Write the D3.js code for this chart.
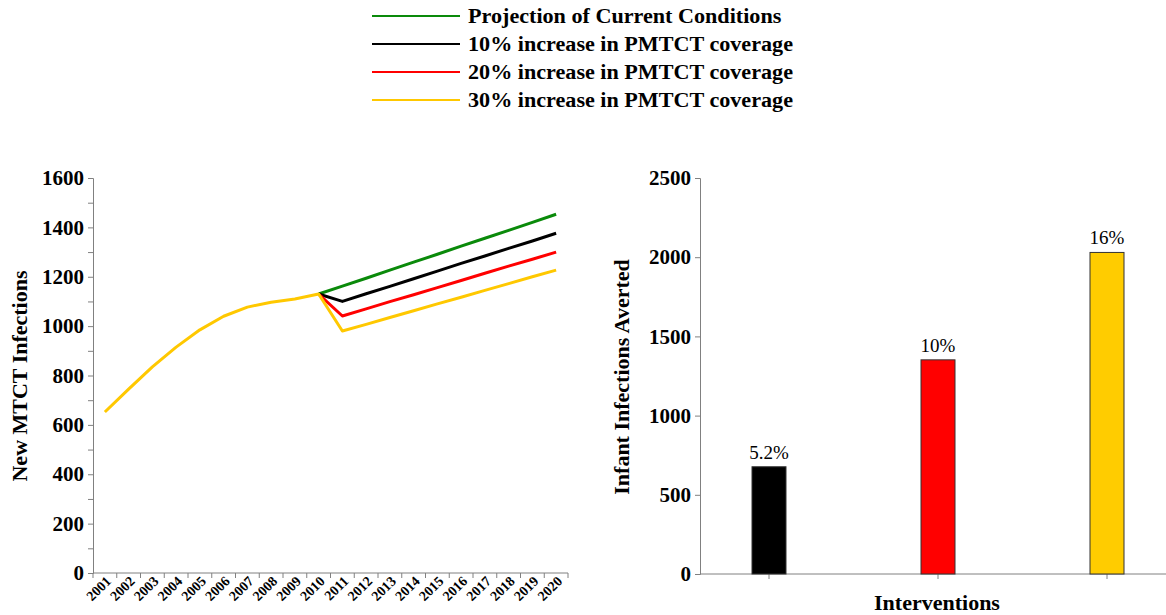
<!DOCTYPE html>
<html><head><meta charset="utf-8">
<script src="https://cdn.jsdelivr.net/npm/d3@7"></script>
<style>
html,body{margin:0;padding:0;background:#fff;}
</style></head>
<body>
<svg id="c" width="1166" height="615"></svg>
<script>
const years = ["2001","2002","2003","2004","2005","2006","2007","2008","2009","2010","2011","2012","2013","2014","2015","2016","2017","2018","2019","2020"];
const history = [652,745,835,915,985,1040,1077,1097,1110,1130];
const currentConditions = [1162,1194,1227,1259,1291,1324,1356,1388,1420,1453];
const inc10 = [1100,1131,1161,1192,1223,1254,1284,1315,1345,1376];
const inc20 = [1041,1070,1099,1127,1156,1185,1214,1243,1271,1300];
const inc30 = [980,1007,1035,1062,1090,1117,1145,1172,1200,1227];
const seriesNames = ["Projection of Current Conditions","10% increase in PMTCT coverage","20% increase in PMTCT coverage","30% increase in PMTCT coverage"];
const seriesColors = ["#0a8a0a","#000000","#ff0000","#ffc800"];
const leftTicks = [0,200,400,600,800,1000,1200,1400,1600];

const interventions = ["10%","20%","30%"];
const averted = [677,1352,2030];
const avertedLabels = ["5.2%","10%","16%"];
const barColors = ["#000000","#ff0000","#ffcc00"];
const rightTicks = [0,500,1000,1500,2000,2500];

const FONT = "'Liberation Serif', 'Times New Roman', Tinos, 'DejaVu Serif', serif";
const svg = d3.select("#c").style("font-family", FONT);
const axisCol = "#808080";

// Legend
const lg = svg.append("g");
seriesNames.forEach((n,i)=>{
  const y = 16 + i*28;
  lg.append("line").attr("x1",372).attr("x2",460).attr("y1",y).attr("y2",y)
    .attr("stroke",seriesColors[i]).attr("stroke-width",2);
  lg.append("text").attr("transform",`translate(468,${y+7}) scale(1.08,1)`).attr("font-size",20.5).attr("font-weight","bold")
    .style("font-family",FONT).text(n);
});

// Left chart
const allSeries = [currentConditions,inc10,inc20,inc30].map(s => history.concat(s));
const xL = d3.scaleBand().domain(years).range([93,568]).padding(0);
const yL = d3.scaleLinear().domain([0,1600]).range([573,178]);

const gL = svg.append("g");
const yAxL = gL.append("g").attr("transform","translate(93,0)")
  .call(d3.axisLeft(yL).tickValues(d3.range(0,1601,100)).tickSize(5)
    .tickFormat(d => leftTicks.includes(d) ? d : ""));
yAxL.select(".domain").attr("stroke",axisCol);
yAxL.selectAll(".tick line").attr("stroke",axisCol);
yAxL.selectAll(".tick text").attr("font-size",21).attr("font-weight","bold").attr("fill","#000")
  .style("font-family",FONT).attr("x",-9);

gL.append("line").attr("x1",93).attr("x2",568).attr("y1",573).attr("y2",573).attr("stroke",axisCol);
const bounds = years.map(y=>xL(y)).concat([xL(years[years.length-1])+xL.bandwidth()]);
gL.selectAll(".xt").data(bounds).enter().append("line")
  .attr("x1",d=>d).attr("x2",d=>d).attr("y1",573).attr("y2",578).attr("stroke",axisCol);
gL.selectAll(".xl").data(years).enter().append("text")
  .attr("transform",d=>`translate(${xL(d)+xL.bandwidth()/2+7},${582}) rotate(-45)`)
  .attr("text-anchor","end").attr("font-size",14).attr("font-weight","bold")
  .style("font-family",FONT).text(d=>d);

gL.append("text").attr("transform","translate(27,376) rotate(-90)").attr("text-anchor","middle")
  .attr("font-size",22).attr("font-weight","bold").style("font-family",FONT).text("New MTCT Infections");

const line = d3.line().x(d=>xL(d.y)+xL.bandwidth()/2).y(d=>yL(d.v));
allSeries.forEach((s,i)=>{
  const pts = s.map((v,j)=>({y:years[j],v}));
  const data = i === 3 ? pts : pts.slice(history.length-1);
  gL.append("path").datum(data).attr("d",line).attr("fill","none")
    .attr("stroke",seriesColors[i]).attr("stroke-width",3).attr("stroke-linejoin","round");
});

// Right chart
const xR = d3.scaleBand().domain(interventions).range([684.5,1191.5]);
const yR = d3.scaleLinear().domain([0,2500]).range([574,178]);
const gR = svg.append("g");
const yAxR = gR.append("g").attr("transform","translate(700,0)")
  .call(d3.axisLeft(yR).tickValues(rightTicks).tickSize(5).tickFormat(d3.format("d")));
yAxR.select(".domain").attr("stroke",axisCol);
yAxR.selectAll(".tick line").attr("stroke",axisCol);
yAxR.selectAll(".tick text").attr("font-size",21).attr("font-weight","bold").attr("fill","#000")
  .style("font-family",FONT).attr("x",-9);
gR.append("line").attr("x1",700).attr("x2",1166).attr("y1",574).attr("y2",574).attr("stroke",axisCol);
gR.selectAll(".xt").data(interventions).enter().append("line")
  .attr("x1",d=>xR(d)+xR.bandwidth()/2).attr("x2",d=>xR(d)+xR.bandwidth()/2)
  .attr("y1",574).attr("y2",579).attr("stroke",axisCol);
const bw = 34;
gR.selectAll(".bar").data(averted).enter().append("rect")
  .attr("x",(d,i)=>xR(interventions[i])+xR.bandwidth()/2-bw/2)
  .attr("y",d=>yR(d)).attr("width",bw).attr("height",d=>574-yR(d))
  .attr("fill",(d,i)=>barColors[i]).attr("stroke","#333").attr("stroke-width",1);
gR.selectAll(".bl").data(averted).enter().append("text")
  .attr("x",(d,i)=>xR(interventions[i])+xR.bandwidth()/2).attr("y",d=>yR(d)-8)
  .attr("text-anchor","middle").attr("font-size",19).style("font-family",FONT).text((d,i)=>avertedLabels[i]);
gR.append("text").attr("transform","translate(629,377) rotate(-90)").attr("text-anchor","middle")
  .attr("font-size",22).attr("font-weight","bold").style("font-family",FONT).text("Infant Infections Averted");
gR.append("text").attr("x",937).attr("y",610).attr("text-anchor","middle")
  .attr("font-size",22).attr("font-weight","bold").style("font-family",FONT).text("Interventions");
</script>
</body></html>
